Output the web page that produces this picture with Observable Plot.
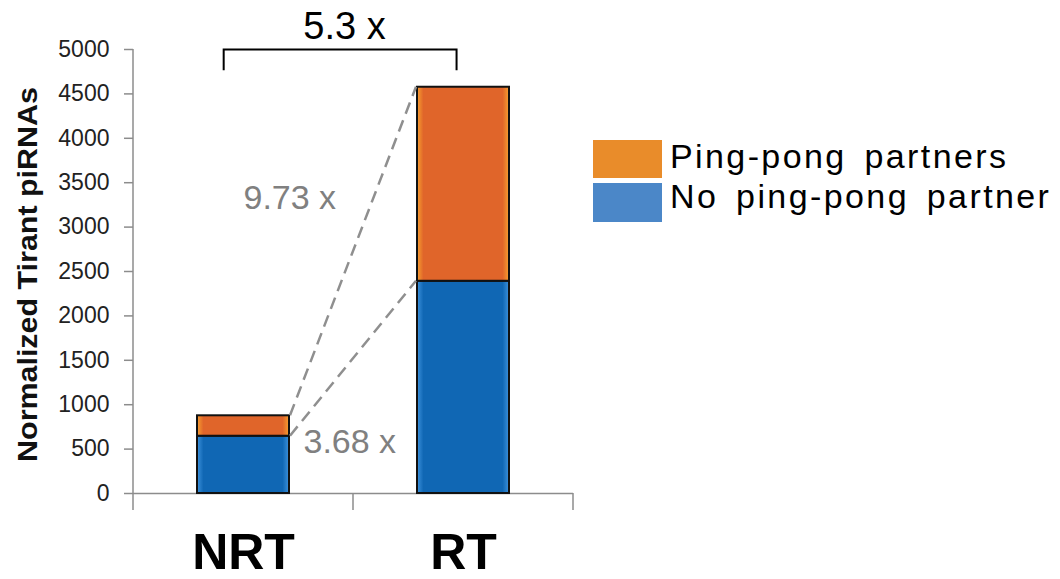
<!DOCTYPE html>
<html>
<head>
<meta charset="utf-8">
<script src="https://cdn.jsdelivr.net/npm/d3@7"></script>
<script src="https://cdn.jsdelivr.net/npm/@observablehq/plot@0.6"></script>
<style>
  html, body { margin: 0; padding: 0; background: #fff; }
  #wrap { position: relative; width: 1060px; height: 579px; font-family: "Liberation Sans", Arial, sans-serif; }
  .lg-sw { position: absolute; left: 593px; width: 69px; }
  .lg-tx { position: absolute; left: 670px; font-size: 34px; line-height: 34px; letter-spacing: 2.4px; word-spacing: 6px; color: #000; white-space: nowrap; }
</style>
</head>
<body>
<div id="wrap"></div>
<script>
// ---- data ----
const categories = ["NRT", "RT"];
const series = ["No ping-pong partner", "Ping-pong partners"];
const noPartner = [645, 2390];
const pingPong = [230, 2185];
const yTicks = [0, 500, 1000, 1500, 2000, 2500, 3000, 3500, 4000, 4500, 5000];
const yTitle = "Normalized Tirant piRNAs";
const totalFold = "5.3 x";
const pingFold = "9.73 x";
const noPartnerFold = "3.68 x";
const legendOrder = ["Ping-pong partners", "No ping-pong partner"];
const legendColors = ["#E98C2A", "#4B87C8"];

const rows = categories.flatMap((c, i) => [
  {cat: c, series: series[0], value: noPartner[i]},
  {cat: c, series: series[1], value: pingPong[i]}
]);

// gradient definitions (bevel look)
function defsMark() {
  const defs = d3.create("svg:defs");
  const mk = (id, edge, base) => {
    const g = defs.append("linearGradient").attr("id", id).attr("x1", 0).attr("x2", 1).attr("y1", 0).attr("y2", 0);
    [[0, edge], [0.07, base], [0.93, base], [1, edge]].forEach(([o, c]) =>
      g.append("stop").attr("offset", o).attr("stop-color", c));
  };
  mk("gBlue", "#3d92dc", "#1067B4");
  mk("gOrange", "#F7A030", "#E0652A");
  return defs.node();
}

const chart = Plot.plot({
  width: 1060,
  height: 579,
  marginLeft: 133,
  marginRight: 487,
  marginTop: 49,
  marginBottom: 86,
  style: {fontFamily: "'Liberation Sans', Arial, sans-serif", background: "#fff", overflow: "visible"},
  x: {domain: categories, paddingInner: 0.582, paddingOuter: 0.291, label: null},
  y: {domain: [0, 5000], label: null},
  color: {domain: series, range: ["url(#gBlue)", "url(#gOrange)"]},
  marks: [
    defsMark,
    Plot.ruleY([0], {stroke: "#8c8c8c", strokeWidth: 1.5}),
    Plot.axisY({ticks: yTicks, tickFormat: d => String(d), tickSize: 9, tickPadding: 15, fontSize: 23, label: null}),
    Plot.axisX({tickSize: 0, tickPadding: 40, fontSize: 50, fontWeight: "bold", label: null}),
    Plot.barY(rows, {x: "cat", y: "value", fill: "series", stroke: "#111", strokeWidth: 2}),
    Plot.text([yTitle], {frameAnchor: "left", textAnchor: "middle", rotate: -90, dx: -105, dy: 3, text: d => d, fontSize: 27, fontWeight: "bold", fill: "#111"}),
    Plot.text([{c: categories[0], v: 3325, t: pingFold}], {x: "c", y: "v", text: "t", textAnchor: "start", fontSize: 34, fill: "#808080"}),
    Plot.text([{c: categories[0], v: 580, t: noPartnerFold}], {x: "c", y: "v", text: "t", textAnchor: "start", dx: 60, fontSize: 34, fill: "#808080"}),
    Plot.text([{c: categories[0], v: 5260, t: totalFold}], {x: "c", y: "v", text: "t", dx: 101, fontSize: 38, fill: "#000"})
  ]
});

const wrap = document.getElementById("wrap");
wrap.appendChild(chart);

const svg = d3.select(chart);
svg.selectAll('g[aria-label="y-axis tick"]').attr("stroke", "#8c8c8c").attr("stroke-width", 1.5);
svg.selectAll('g[aria-label="y-axis tick label"]').attr("fill", "#222");
svg.selectAll('g[aria-label="x-axis tick label"]').attr("fill", "#000");

// stretch the y title along its length to match the reference
svg.selectAll("text").filter(function() { return this.textContent === yTitle; }).each(function() {
  const len = this.getComputedTextLength();
  const t = this.getAttribute("transform") || "";
  this.setAttribute("transform", t + ` scale(${375 / len},1)`);
});

// guides drawn with the chart's own scales
const sx = chart.scale("x"), sy = chart.scale("y");
const X = v => sx.apply(v), Y = v => sy.apply(v);
const bw = sx.bandwidth, step = X(categories[1]) - X(categories[0]);
const pad = (step - bw) / 2;
const g = svg.append("g").attr("aria-label", "guides");
const left = X(categories[0]) - pad;
g.append("line").attr("x1", left).attr("x2", left).attr("y1", Y(0)).attr("y2", Y(yTicks[yTicks.length - 1]))
  .attr("stroke", "#8c8c8c").attr("stroke-width", 1.5);
[left, X(categories[0]) + bw + pad, X(categories[1]) + bw + pad].forEach(e =>
  g.append("line").attr("x1", e).attr("x2", e).attr("y1", Y(0)).attr("y2", Y(0) + 17)
    .attr("stroke", "#8c8c8c").attr("stroke-width", 1.5));
const nrtR = X(categories[0]) + bw, rtL = X(categories[1]);
[[noPartner[0] + pingPong[0], noPartner[1] + pingPong[1]], [noPartner[0], noPartner[1]]].forEach(([a, b]) =>
  g.append("line").attr("x1", nrtR + 1).attr("y1", Y(a)).attr("x2", rtL - 1).attr("y2", Y(b))
    .attr("stroke", "#8f8f8f").attr("stroke-width", 2.5).attr("stroke-dasharray", "12,7"));
const bl = X(categories[0]) + bw * 0.29, br = X(categories[1]) + bw * 0.43;
g.append("path").attr("d", `M${bl},${Y(4760)}V${Y(4995)}H${br}V${Y(4760)}`)
  .attr("fill", "none").attr("stroke", "#000").attr("stroke-width", 2);

// legend
const tops = [[140, 139], [183, 179]];
legendOrder.forEach((name, i) => {
  const sw = document.createElement("div");
  sw.className = "lg-sw";
  sw.style.top = tops[i][0] + "px";
  sw.style.height = (i === 0 ? 38 : 39) + "px";
  sw.style.background = legendColors[i];
  wrap.appendChild(sw);
  const tx = document.createElement("div");
  tx.className = "lg-tx";
  tx.style.top = tops[i][1] + "px";
  tx.textContent = name;
  wrap.appendChild(tx);
});
</script>
</body>
</html>
